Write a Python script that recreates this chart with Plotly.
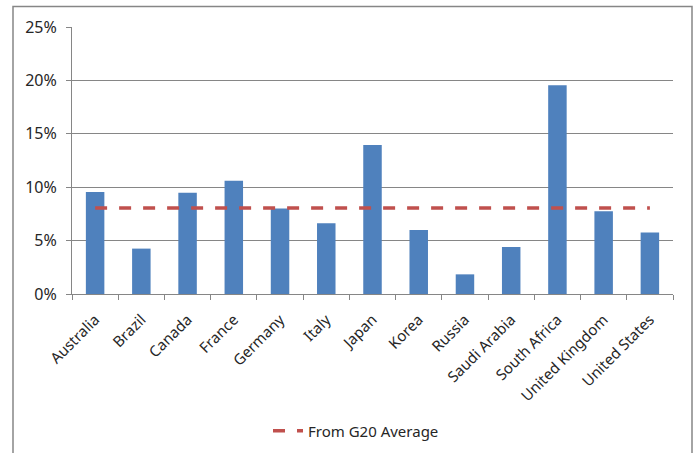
import plotly.graph_objects as go

countries = ["Australia", "Brazil", "Canada", "France", "Germany", "Italy", "Japan",
             "Korea", "Russia", "Saudi Arabia", "South Africa", "United Kingdom", "United States"]
values = [0.0955, 0.0425, 0.0949, 0.1060, 0.0800, 0.0662, 0.1395,
          0.0600, 0.0184, 0.0440, 0.1954, 0.0774, 0.0575]
g20_average = [0.0805] * len(countries)
y_ticks = [0, 0.05, 0.10, 0.15, 0.20, 0.25]

W, H = 694, 453
L, R, T, B = 72, 21, 27, 159
pw, ph = W - L - R, H - T - B

def px_x(px):
    return (px - L) / pw

def px_y(py):
    return (H - B - py) / ph

fig = go.Figure()
fig.add_trace(go.Bar(x=countries, y=values, marker=dict(color="#4F81BD", line=dict(width=0)),
                     showlegend=False, width=0.4))
fig.add_trace(go.Scatter(x=countries, y=g20_average, mode="lines", name="From G20 Average",
                         line=dict(color="#C0504D", width=3.5, dash="12px,12px")))

fig.update_layout(
    width=W, height=H,
    margin=dict(l=L, r=R, t=T, b=B, autoexpand=False),
    paper_bgcolor="white", plot_bgcolor="white",
    font=dict(family="Noto Sans, sans-serif", size=14, color="#262626"),
    legend=dict(orientation="h", x=px_x(356), xanchor="center", y=px_y(431), yanchor="middle",
                font=dict(size=15), bgcolor="rgba(0,0,0,0)"),
    xaxis=dict(type="category", tickangle=-45, showgrid=False, showline=True, linecolor="#868686",
               linewidth=1, ticks="outside", tickson="boundaries", ticklen=5, tickcolor="#868686",
               tickfont=dict(size=15), range=[-0.5, len(countries) - 0.5], automargin=False,
               ticklabelstandoff=10),
    yaxis=dict(range=[0, 0.25], tickvals=y_ticks, tickformat=".0%", showgrid=True, gridcolor="#868686",
               gridwidth=1, showline=True, linecolor="#868686", linewidth=1, ticks="outside",
               ticklen=5, tickcolor="#868686", tickfont=dict(size=16), zeroline=False,
               ticklabelstandoff=6, automargin=False),
    shapes=[dict(type="rect", xref="paper", yref="paper",
                 x0=px_x(13), x1=px_x(692), y0=px_y(470), y1=px_y(6.5),
                 line=dict(color="#868686", width=1.5), fillcolor="rgba(0,0,0,0)", layer="below")],
)

fig.write_html("out.html")
